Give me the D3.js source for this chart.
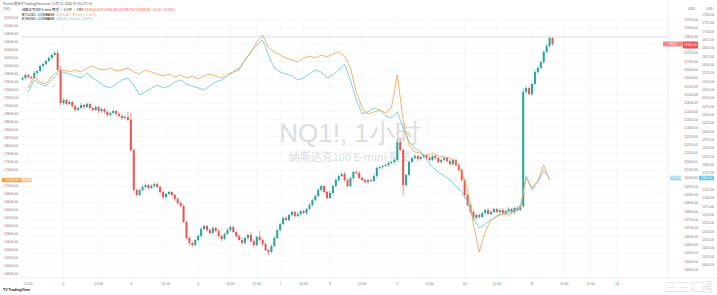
<!DOCTYPE html>
<html><head><meta charset="utf-8">
<script src="https://cdn.jsdelivr.net/npm/d3@7"></script>
<style>body{margin:0;background:#fff}svg{display:block}text{font-family:"Liberation Sans",Arial,sans-serif}</style>
</head><body><svg id="c" width="717" height="295"></svg>
<script>
// ---------- DATA ----------
const nqFirstOpen = 11590;
const nqClose = [
11600,11618,11606,11600,11630,11642,11672,11684,11702,11720,
11738,11750,11648,11450,11468,11444,11456,11432,11408,11420,
11438,11426,11444,11420,11408,11426,11402,11414,11396,11378,
11390,11402,11384,11372,11360,11366,11348,11168,10928,10898,
10928,10946,10958,10940,10952,10964,10946,10916,10886,10904,
10916,10898,10874,10850,10832,10736,10640,10610,10598,10628,
10652,10694,10712,10688,10670,10700,10682,10652,10634,10664,
10688,10706,10676,10652,10628,10610,10640,10658,10622,10598,
10646,10628,10604,10568,10556,10592,10640,10688,10724,10760,
10748,10778,10796,10772,10784,10802,10790,10814,10838,10868,
10892,10928,10952,10916,10880,10910,10952,10988,11012,11024,
10988,10952,11000,11036,11030,11000,10988,10976,10988,10982,
11012,11060,11066,11072,11078,11090,11096,11108,11216,11168,
10958,11018,11096,11120,11132,11114,11126,11138,11120,11108,
11132,11120,11096,11108,11120,11102,11084,11108,11078,11048,
10988,10898,10838,10796,10760,10778,10766,10790,10808,10784,
10796,10814,10796,10808,10790,10802,10814,10796,10820,10808,
10832,11516,11540,11504,11564,11636,11660,11696,11756,11792,
11840,11804];
const nqWickUp = [
8,10,6,8,12,6,10,8,6,10, 8,12,18,24,10,8,12,6,10,8,
12,6,10,8,6,12,8,10,6,12, 8,10,6,12,8,10,30,42,12,10,
8,12,10,6,12,8,10,6,12,8, 10,6,8,12,10,8,6,10,12,8,
10,12,8,6,10,12,8,10,6,8, 12,10,8,6,10,12,8,10,18,12,
8,36,10,12,8,10,12,8,6,10, 12,8,10,6,12,8,10,6,12,8,
10,12,8,6,10,12,8,10,6,8, 12,10,8,6,10,12,8,10,6,8,
12,10,8,6,10,12,8,10,18,24, 10,8,6,10,12,8,10,6,8,12,
10,8,6,10,12,8,10,6,8,12, 10,8,6,10,12,8,10,6,8,12,
10,8,6,10,12,8,10,6,8,12, 10,24,12,10,8,10,12,8,10,12,
8,6];
const nqWickDn = [
6,8,10,6,8,12,6,10,8,6, 10,8,6,12,10,8,6,12,10,6,
8,12,6,10,8,6,12,8,10,6, 12,8,10,6,12,8,6,12,14,10,
8,6,10,12,8,10,6,8,12,10, 6,8,12,10,8,6,10,14,12,8,
10,8,6,12,10,8,6,10,12,8, 6,10,8,12,6,10,8,12,10,14,
8,10,12,6,18,10,8,6,10,8, 6,10,8,12,6,10,8,12,6,10,
8,6,10,12,8,6,10,8,12,6, 10,8,6,12,10,8,6,10,12,8,
6,10,8,12,6,10,8,12,10,8, 60,10,8,6,10,12,8,6,10,8,
6,10,8,12,6,10,8,12,10,8, 12,20,10,8,12,6,10,8,12,6,
10,8,6,12,10,8,6,10,12,8, 6,12,10,8,12,6,10,8,12,6,
8,10];
// compare series, one value every 2 bars (bar index = 2*k)
const btcUsd = [null,
19450,19750,19600,19550,19750,19850,19900,19850,19900,19850,
19950,20000,19925,19900,19950,19875,19900,19950,19850,19800,
19900,19850,19800,19750,19800,19725,19775,19700,19750,19675,
19750,19800,19750,19700,19800,19850,19900,20150,20350,20600,
20775,20450,20350,20275,20200,20150,20100,20200,20250,20200,
20275,20225,20300,20350,20250,19950,19350,18950,18800,18850,
18900,18825,18950,19775,18650,18025,17850,17825,17750,17825,
17750,17725,17700,17600,17350,16900,16025,15350,15850,16150,
16250,16300,16275,16350,16450,17200,16950,17150,17525,17150];
const ethUsd = [null,
1518,1554,1542,1536,1554,1572,1578,1572,1566,1560,
1575,1560,1548,1536,1530,1542,1554,1560,1539,1509,
1518,1530,1539,1530,1536,1548,1554,1542,1536,1530,
1524,1536,1548,1554,1566,1578,1590,1614,1638,1659,
1674,1629,1590,1578,1572,1566,1554,1560,1572,1584,
1578,1560,1569,1584,1602,1554,1494,1452,1458,1470,
1464,1446,1440,1458,1410,1368,1350,1338,1314,1293,
1278,1266,1254,1236,1218,1188,1140,1110,1122,1134,
1146,1152,1155,1164,1173,1266,1224,1248,1284,1260];
const nqRefLine = 11846;
const timeTickIdx = [2,14,26,37,49,60,71,80,88,96,105,116,128,139,151,162,174,185,194,203];
const timeTickLabels = ["12:00","2","12:00","3","12:00","4","12:00","17:00","7","12:00","8","12:00","9","12:00","10","12:00","11","12:00","17:00","14"];
const nqTicks = d3.range(10450, 11951, 50);
const btcTicks = d3.range(14800, 21201, 200);
const ethTicks = d3.range(1000, 1751, 25);

// ---------- LAYOUT ----------
const W = 717, H = 295;
const L = 22, R = 668, T = 6, B = 278;
const svg = d3.select("#c");
svg.append("rect").attr("width", W).attr("height", H).attr("fill", "#fff");

const x = d3.scaleLinear().domain([0, 181]).range([22.5, 552.5]);
const yNQ = d3.scaleLinear().domain([10400, 12032]).range([B, T]);
const yBTC = d3.scaleLinear().domain([14700, 21500]).range([B, T]);
const yETH = d3.scaleLinear().domain([960, 1776]).range([B, T]);

const UP = "#26a69a", DN = "#ef5350", ORANGE = "#f5a048", CYAN = "#5cc8e4";
const gridC = "#f0f2f6", txtC = "#787b86", fs = 3.4;

// grid
const grid = svg.append("g");
grid.selectAll("line.h").data(nqTicks).join("line")
  .attr("x1", L).attr("x2", R).attr("y1", d => yNQ(d)).attr("y2", d => yNQ(d))
  .attr("stroke", gridC).attr("stroke-width", 0.6);
grid.selectAll("line.v").data(timeTickIdx).join("line")
  .attr("x1", d => x(d)).attr("x2", d => x(d)).attr("y1", T + 14).attr("y2", B)
  .attr("stroke", gridC).attr("stroke-width", 0.6);

// watermark
svg.append("text").attr("x", 350).attr("y", 142).attr("text-anchor", "middle")
  .attr("font-size", 26).attr("fill", "#dcdde0").text("NQ1!, 1小时");
svg.append("text").attr("x", 350).attr("y", 161).attr("text-anchor", "middle")
  .attr("font-size", 11).attr("fill", "#dcdde0")
  .style("font-family", "'Noto Sans CJK SC','Liberation Sans',sans-serif").text("纳斯达克100 E-mini 期货");

// pane borders
svg.append("line").attr("x1", R).attr("x2", R).attr("y1", 0).attr("y2", B).attr("stroke", "#e0e3eb").attr("stroke-width", 0.6);
svg.append("line").attr("x1", L).attr("x2", L).attr("y1", 0).attr("y2", B).attr("stroke", "#eceef2").attr("stroke-width", 0.5);
svg.append("line").attr("x1", 0).attr("x2", W).attr("y1", B).attr("y2", B).attr("stroke", "#e0e3eb").attr("stroke-width", 0.6);
svg.append("line").attr("x1", L).attr("x2", R).attr("y1", yNQ(nqRefLine)).attr("y2", yNQ(nqRefLine))
  .attr("stroke", "#c9ccd4").attr("stroke-width", 0.6);

// candles
const bars = nqClose.map((c, i) => {
  const o = i === 0 ? nqFirstOpen : nqClose[i - 1];
  return {i, o, c, h: Math.max(o, c) + nqWickUp[i], l: Math.min(o, c) - nqWickDn[i]};
});
const bw = 2.0;
const cg = svg.append("g");
cg.selectAll("line").data(bars).join("line")
  .attr("x1", d => x(d.i)).attr("x2", d => x(d.i))
  .attr("y1", d => yNQ(d.h)).attr("y2", d => yNQ(d.l))
  .attr("stroke", d => d.c >= d.o ? UP : DN).attr("stroke-width", 0.6);
cg.selectAll("rect").data(bars).join("rect")
  .attr("x", d => x(d.i) - bw / 2).attr("width", bw)
  .attr("y", d => yNQ(Math.max(d.o, d.c)))
  .attr("height", d => Math.max(0.6, Math.abs(yNQ(d.o) - yNQ(d.c))))
  .attr("fill", d => d.c >= d.o ? UP : DN);

// compare lines
const lineBTC = d3.line().defined(d => d != null).x((d, k) => x(2 * k)).y(d => yBTC(d));
const lineETH = d3.line().defined(d => d != null).x((d, k) => x(2 * k)).y(d => yETH(d));
svg.append("path").attr("d", lineETH(ethUsd)).attr("fill", "none").attr("stroke", CYAN).attr("stroke-width", 0.8);
svg.append("path").attr("d", lineBTC(btcUsd)).attr("fill", "none").attr("stroke", ORANGE).attr("stroke-width", 0.8);

const lastNQ = nqClose[nqClose.length - 1], lastBTC = btcUsd[btcUsd.length - 1], lastETH = ethUsd[ethUsd.length - 1];

// axes labels (labels colliding with the value tags are hidden)
const fmt = d3.format(".2f");
const lg = svg.append("g").attr("font-size", fs).attr("fill", txtC);
lg.selectAll("text.b").data(btcTicks.filter(d => Math.abs(yBTC(d) - yBTC(lastBTC)) > 4.5)).join("text")
  .attr("x", 4).attr("y", d => yBTC(d)).attr("dy", "0.35em").text(fmt);
lg.selectAll("text.n").data(nqTicks.filter(d => Math.abs(yNQ(d) - yNQ(lastNQ)) > 5)).join("text")
  .attr("x", 684).attr("y", d => yNQ(d)).attr("dy", "0.35em").text(fmt);
lg.selectAll("text.e").data(ethTicks.filter(d => Math.abs(yETH(d) - yETH(lastETH)) > 4.5)).join("text")
  .attr("x", 702).attr("y", d => yETH(d)).attr("dy", "0.35em").text(fmt);
lg.append("text").attr("x", 3).attr("y", 10).text("USD");
lg.append("text").attr("x", 688).attr("y", 10).text("USD");
lg.append("text").attr("x", 706).attr("y", 10).text("USD");

// time axis
svg.append("g").attr("font-size", fs).attr("fill", txtC).attr("text-anchor", "middle")
  .selectAll("text").data(timeTickIdx).join("text")
  .attr("x", d => x(d)).attr("y", 284.5).text((d, i) => timeTickLabels[i]);

// last value labels
function tag(xx, yy, w, h, fill, txt, col) {
  svg.append("rect").attr("x", xx).attr("y", yy - h / 2).attr("width", w).attr("height", h).attr("fill", fill).attr("rx", 0.5);
  svg.append("text").attr("x", xx + w / 2).attr("y", yy).attr("dy", "0.35em").attr("text-anchor", "middle")
    .attr("font-size", 3.2).attr("fill", col || "#fff").text(txt);
}
tag(663, yNQ(lastNQ), 20, 5, "#f28b88", "NQ1!");
tag(683, yNQ(lastNQ) + 1, 15, 7, DN, fmt(lastNQ));
tag(2, yBTC(lastBTC), 20, 4.5, ORANGE, fmt(lastBTC));
tag(22, yBTC(lastBTC), 10, 4.5, "#f8c48c", "BTCUSD");
tag(670, yETH(lastETH), 11, 4.5, "#8fd8ec", "ETHUSD");
tag(699, yETH(lastETH), 15, 4.5, CYAN, fmt(lastETH));

// header & legend
const hd = svg.append("g").attr("font-size", 3.3);
hd.append("text").attr("x", 3).attr("y", 4.5).attr("fill", "#555")
  .style("font-family", "'Noto Sans CJK SC',sans-serif").text("Picture发布于TradingView.com, 11月 11, 2022 07:55 UTC+8");
const l1 = hd.append("text").attr("x", 22).attr("y", 11).style("font-family", "'Noto Sans CJK SC',sans-serif");
l1.append("tspan").attr("fill", "#131722").text("纳斯达克100 E-mini 期货 · 1小时 · CME  ");
l1.append("tspan").attr("fill", DN).text("O11816.25 H11852.00 L11798.75 C11804.00 −12.25 (−0.10%)");
const l2 = hd.append("text").attr("x", 22).attr("y", 15.5);
l2.append("tspan").attr("fill", "#131722").text("BTCUSD, COINBASE  ");
l2.append("tspan").attr("fill", ORANGE).text("17150.00 −375.00 (−2.14%)");
const l3 = hd.append("text").attr("x", 22).attr("y", 20);
l3.append("tspan").attr("fill", "#131722").text("ETHUSD, COINBASE  ");
l3.append("tspan").attr("fill", CYAN).text("1260.00 −24.00 (−1.87%)");

// footer
svg.append("text").attr("x", 3).attr("y", 291).attr("font-size", 3.6).attr("fill", "#131722").attr("font-weight", "bold").text("TV TradingView");
svg.append("text").attr("x", 713).attr("y", 292).attr("text-anchor", "end").attr("font-size", 12)
  .attr("fill", "#e6e6e6").style("font-family", "'Noto Sans CJK SC',sans-serif").text("三三汇通");
</script></body></html>
